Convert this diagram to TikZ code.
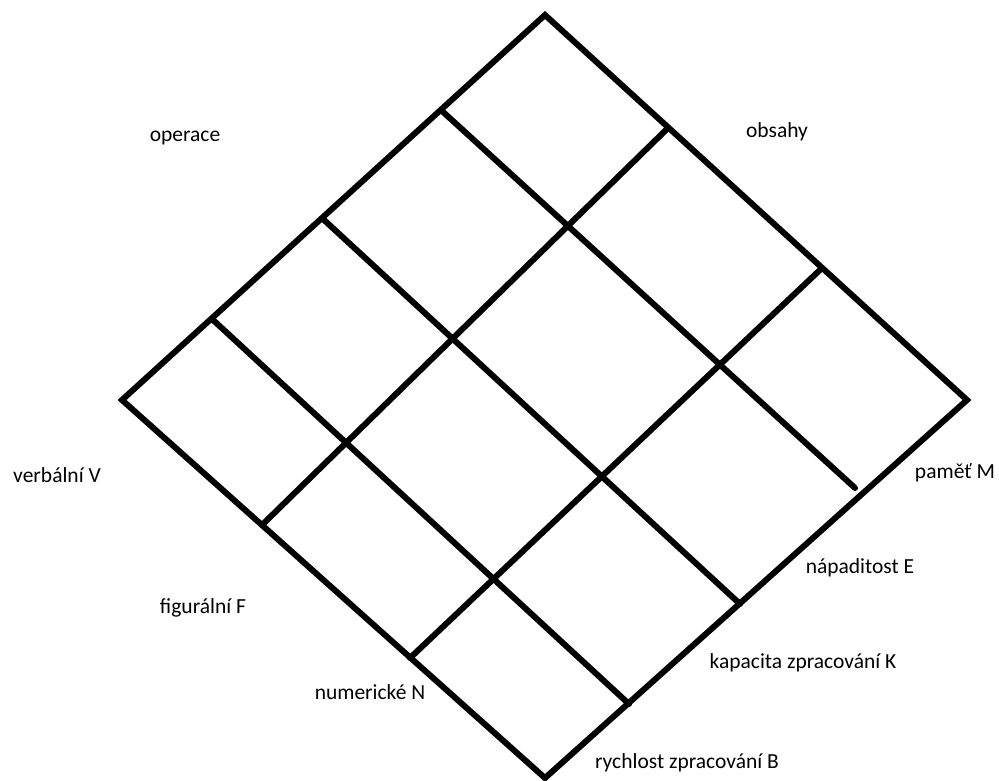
\documentclass[tikz,border=0pt]{standalone}
\usepackage{fontspec}
\setmainfont{Carlito}
\begin{document}
\begin{tikzpicture}[x=1pt,y=-1pt,
  grid/.style={line width=6pt,black},
  inner/.style={line width=6pt,black,line cap=round},
  lab/.style={font=\fontsize{21.5}{25}\selectfont,text=black,inner sep=0pt,anchor=center}]
\useasboundingbox[fill=white] (0,0) rectangle (999,781);
% outer diamond
\coordinate (T) at (545,15);
\coordinate (L) at (122,400);
\coordinate (B) at (545,778);
\coordinate (R) at (967,400);
\draw[grid] (T) -- (R) -- (B) -- (L) -- cycle;
% lines parallel to the upper-right edge
\coordinate (a1s) at (442,111);
\coordinate (a1e) at (855,488);
\coordinate (a2s) at (323,219);
\coordinate (a2e) at (740,604);
\coordinate (a3s) at (212,319);
\coordinate (a3e) at (629,704);
\draw[inner] (a1s) -- (a1e);
\draw[inner] (a2s) -- (a2e);
\draw[inner] (a3s) -- (a3e);
% lines parallel to the upper-left edge
\coordinate (b1s) at (262,525);
\coordinate (b1e) at (668,128);
\coordinate (b2s) at (410,658);
\coordinate (b2e) at (822,268);
\draw[inner] (b1s) -- (b1e);
\draw[inner] (b2s) -- (b2e);
% labels
\node[lab] (operace) at (185,138) {operace};
\node[lab] (obsahy) at (777,132) {obsahy};
\node[lab] (verb) at (57,475) {verbální V};
\node[lab] (fig) at (203,608) {figurální F};
\node[lab] (num) at (370,692) {numerické N};
\node[lab] (pam) at (955,473) {paměť M};
\node[lab] (nap) at (860,568) {nápaditost E};
\node[lab] (kap) at (803,663) {kapacita zpracování K};
\node[lab] (ryc) at (687,763) {rychlost zpracování B};
\end{tikzpicture}
\end{document}
